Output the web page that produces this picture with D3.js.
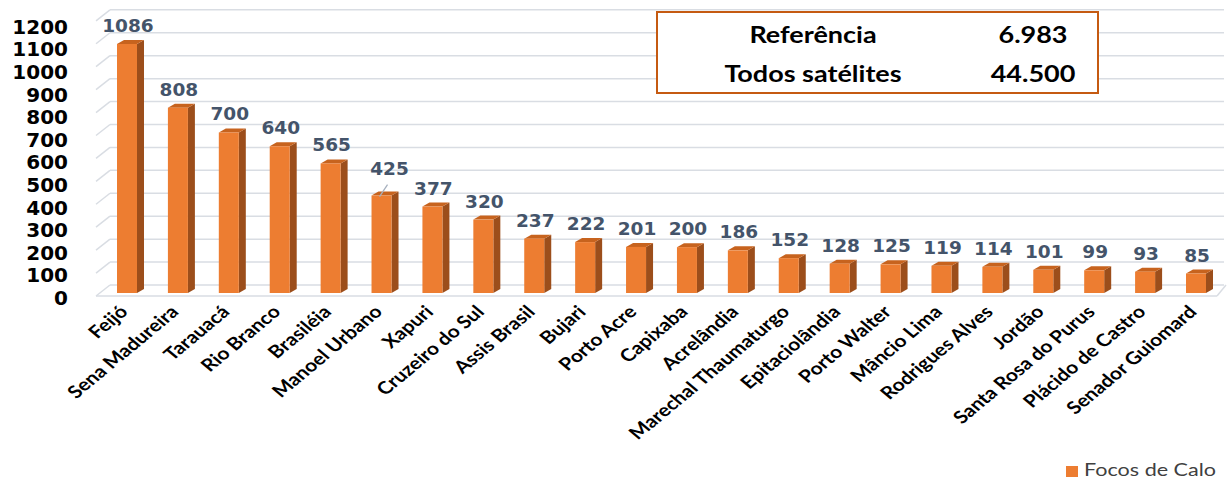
<!DOCTYPE html>
<html>
<head>
<meta charset="utf-8">
<script src="https://cdn.jsdelivr.net/npm/d3@7"></script>
<style>
  html, body { margin: 0; padding: 0; background: #fff; }
  svg { display: block; }
</style>
</head>
<body>
<script>
const categories = ["Feijó","Sena Madureira","Tarauacá","Rio Branco","Brasiléia","Manoel Urbano","Xapuri","Cruzeiro do Sul","Assis Brasil","Bujari","Porto Acre","Capixaba","Acrelândia","Marechal Thaumaturgo","Epitaciolândia","Porto Walter","Mâncio Lima","Rodrigues Alves","Jordão","Santa Rosa do Purus","Plácido de Castro","Senador Guiomard"];
const values = [1086,808,700,640,565,425,377,320,237,222,201,200,186,152,128,125,119,114,101,99,93,85];
const yTicks = [0,100,200,300,400,500,600,700,800,900,1000,1100,1200];
const seriesName = "Focos de Calo";
const boxLabels = ["Referência","Todos satélites"];
const boxValues = ["6.983","44.500"];

const W = 1227, H = 479;
const SX = 1.2; // horizontal stretch of the original picture
const svg = d3.select("body").append("svg").attr("width", W).attr("height", H);

const x = d3.scalePoint().domain(categories).range([127, 1196]);
const y = d3.scaleLinear().domain([0, 1200]).range([293, 293 - 1200 * 0.2293]);

const gridColor = "#D9DDE3";
const grid = svg.append("g");
yTicks.forEach(v => {
  const yb = y(v) - 8;
  grid.append("line").attr("x1", 110).attr("x2", 1224).attr("y1", yb).attr("y2", yb)
    .attr("stroke", gridColor).attr("stroke-width", 1.5);
  grid.append("line").attr("x1", 96).attr("x2", 110).attr("y1", yb + 11).attr("y2", yb)
    .attr("stroke", gridColor).attr("stroke-width", 1.5);
});
grid.append("line").attr("x1", 96).attr("x2", 1217).attr("y1", y(0) + 3).attr("y2", y(0) + 3)
  .attr("stroke", gridColor).attr("stroke-width", 1.5);
grid.append("line").attr("x1", 1217).attr("x2", 1226).attr("y1", y(0) + 3).attr("y2", y(0) - 8)
  .attr("stroke", gridColor).attr("stroke-width", 1.5);

// y-axis labels
svg.append("g").selectAll("text").data(yTicks).join("text")
  .attr("x", 68).attr("y", d => y(d) + 5 + d / 300)
  .attr("text-anchor", "end").attr("dominant-baseline", "central")
  .style("font-family", "'DejaVu Sans', sans-serif").style("font-weight", "bold")
  .style("font-size", "20px").attr("fill", "#000")
  .text(d => d);

// 3D bars
const bw = 20, dx = 7, dy = 4;
const bars = svg.append("g");
categories.forEach((c, i) => {
  const v = values[i];
  const x0 = x(c) - bw / 2, x1 = x0 + bw, yt = y(v), yb = y(0);
  bars.append("path")
    .attr("d", `M${x1},${yt}L${x1 + dx},${yt - dy}L${x1 + dx},${yb - dy}L${x1},${yb}Z`)
    .attr("fill", "#9C4E1B");
  bars.append("path")
    .attr("d", `M${x0},${yt}L${x0 + dx},${yt - dy}L${x1 + dx},${yt - dy}L${x1},${yt}Z`)
    .attr("fill", "#C7631E");
  bars.append("rect").attr("x", x0).attr("y", yt).attr("width", bw).attr("height", yb - yt)
    .attr("fill", "#ED7D31");
});

// value labels
const lab = svg.append("g");
categories.forEach((c, i) => {
  const v = values[i];
  let lx = x(c) + 1, ly = y(v) - 12;
  if (c === "Manoel Urbano") {
    lx = x(c) + 8; ly = y(v) - 21;
    lab.append("line").attr("x1", x(c) - 2).attr("y1", y(v) + 1).attr("x2", x(c) + 6).attr("y2", y(v) - 11)
      .attr("stroke", "#A6B0BE").attr("stroke-width", 1.3);
  }
  lab.append("text").attr("x", lx).attr("y", ly).attr("text-anchor", "middle")
    .style("font-family", "'DejaVu Sans', sans-serif").style("font-weight", "bold")
    .style("font-size", "18.5px").attr("fill", "#44546A")
    .text(v);
});

// category labels (rotated)
svg.append("g").selectAll("text").data(categories).join("text")
  .attr("transform", d => `translate(${x(d) + 2},${313}) scale(${SX},1) rotate(-45)`)
  .attr("text-anchor", "end")
  .style("font-family", "Lato, 'Open Sans', sans-serif").style("font-weight", "bold")
  .style("font-size", "17.5px").attr("fill", "#000")
  .text(d => d);

// info box
const box = svg.append("g");
box.append("rect").attr("x", 657).attr("y", 12).attr("width", 441).attr("height", 81)
  .attr("fill", "#fff").attr("stroke", "#C55A11").attr("stroke-width", 2);
[43, 82].forEach((by, i) => {
  box.append("text").attr("transform", `translate(813,${by}) scale(${SX},1)`)
    .attr("text-anchor", "middle")
    .style("font-family", "Lato, sans-serif").style("font-weight", "bold").style("font-size", "22.5px")
    .attr("fill", "#000").text(boxLabels[i]);
  box.append("text").attr("transform", `translate(1033,${by}) scale(${SX},1)`)
    .attr("text-anchor", "middle")
    .style("font-family", "Lato, sans-serif").style("font-weight", "bold").style("font-size", "22.5px")
    .attr("fill", "#000").text(boxValues[i]);
});

// legend
const lg = svg.append("g");
lg.append("rect").attr("x", 1066).attr("y", 466).attr("width", 12).attr("height", 11).attr("fill", "#ED7D31");
lg.append("text").attr("x", 1084).attr("y", 476)
  .attr("textLength", 132).attr("lengthAdjust", "spacingAndGlyphs")
  .style("font-family", "Lato, sans-serif").style("font-size", "17px").attr("fill", "#404040")
  .text(seriesName);
</script>
</body>
</html>
